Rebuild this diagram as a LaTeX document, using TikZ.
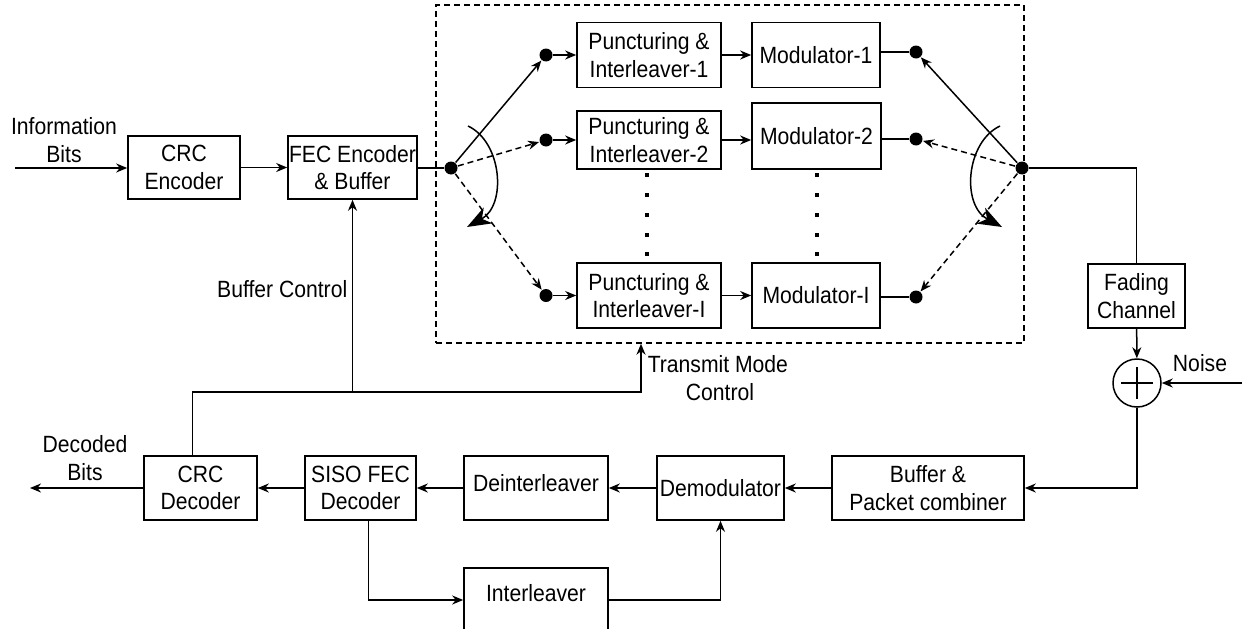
\documentclass[tikz,border=0pt]{standalone}
\usepackage{fontspec}
\setmainfont{Liberation Sans}[FakeStretch=0.9]
\usetikzlibrary{arrows.meta}
\begin{document}
\begin{tikzpicture}[x=1pt,y=-1pt,
  font=\fontsize{23.5}{27.5}\selectfont,
  line width=1.5pt,
  box/.style={draw, line width=1.6pt, inner sep=0pt, align=center},
  arr/.style={-{Stealth[length=11pt,width=9pt,inset=3.5pt]}},
  bigarr/.style={-{Stealth[length=24pt,width=18pt,inset=7pt]}},
  dotn/.style={circle, fill, inner sep=0pt, minimum size=13pt},
  dsh/.style={dash pattern=on 6pt off 4pt},
  vdot/.style={fill, inner sep=0pt, minimum size=4pt},
  lbl/.style={inner sep=0pt, align=center}]
\clip (0,0) rectangle (1242,629);
% transmitter dashed box
\node[draw, dsh, line width=1.4pt, minimum width=588pt, minimum height=338pt, inner sep=0pt] (tx) at (730,174) {};
% encoder chain
\node[box, minimum width=112pt, minimum height=63pt] (crcenc) at (184,167.5) {CRC\\Encoder};
\node[box, minimum width=129pt, minimum height=63pt] (fec) at (352.5,167.5) {FEC Encoder\\\& Buffer};
\node[lbl] (info) at (64,140) {Information\\Bits};
\coordinate (in) at (15,168);
% branches
\node[box, minimum width=144pt, minimum height=65pt] (p1) at (649,55) {Puncturing \&\\Interleaver-1};
\node[box, minimum width=128pt, minimum height=65pt] (m1) at (816,55) {Modulator-1};
\node[box, minimum width=144pt, minimum height=58pt] (p2) at (649,140) {Puncturing \&\\Interleaver-2};
\node[box, minimum width=129pt, minimum height=66pt] (m2) at (816.5,136) {Modulator-2};
\node[box, minimum width=144pt, minimum height=65pt] (p3) at (649,295.5) {Puncturing \&\\Interleaver-I};
\node[box, minimum width=128pt, minimum height=65pt] (m3) at (816,295.5) {Modulator-I};
% switch dots
\node[dotn] (lp) at (451,168) {};
\node[dotn] (d1) at (546,55) {};
\node[dotn] (d2) at (546,140) {};
\node[dotn] (d3) at (546,295.5) {};
\node[dotn] (rp) at (1022,168) {};
\node[dotn] (e1) at (916,52) {};
\node[dotn] (e2) at (916,139) {};
\node[dotn] (e3) at (916,297) {};
% vertical ellipsis
\foreach \yy in {175,195,215,235,254} {
  \node[vdot] at (647,\yy) {};
  \node[vdot] at (817,\yy) {};
}
% channel
\node[box, minimum width=97pt, minimum height=64pt] (fading) at (1136.5,296) {Fading\\Channel};
\node[circle, draw, line width=1.5pt, minimum size=48pt, inner sep=0pt] (adder) at (1137,383) {};
\draw ([yshift=16pt]adder.center) -- ([yshift=-16pt]adder.center);
\draw ([xshift=-16pt]adder.center) -- ([xshift=16pt]adder.center);
\node[lbl] (noise) at (1200,363) {Noise};
\coordinate (nz) at (1242,383);
% receiver
\node[box, minimum width=192pt, minimum height=64pt] (bufpc) at (928,488) {Buffer \&\\Packet combiner};
\node[box, minimum width=127pt, minimum height=64pt] (demod) at (720.5,488) {Demodulator};
\node[box, minimum width=144pt, minimum height=64pt] (deint) at (536,488) {};
\node[lbl] (deinttxt) at (536,483) {Deinterleaver};
\node[box, minimum width=111pt, minimum height=64pt] (siso) at (360.5,488) {SISO FEC\\Decoder};
\node[box, minimum width=113pt, minimum height=64pt] (crcdec) at (200.5,488) {CRC\\Decoder};
\node[box, minimum width=144pt, minimum height=64pt] (intl) at (536,600) {};
\node[lbl] (intltxt) at (536,593) {Interleaver};
\node[lbl] (dec) at (85,458) {Decoded\\Bits};
\coordinate (out) at (30,488);
\coordinate (tmc) at (641,392);
% labels
\node[lbl, anchor=east] (bc) at (348,289) {Buffer Control};
\node[lbl, anchor=west] (tm1) at (647,364) {Transmit Mode};
\node[lbl] (tm2) at (720,392) {Control};
% connectors: transmitter
\draw[arr] (in) -- (crcenc.west |- in);
\draw[arr] (crcenc) -- (fec);
\draw (fec.east |- lp) -- (lp);
\draw[arr] (lp) -- (d1);
\draw[arr, dsh] (lp) -- (d2);
\draw[arr, dsh] (lp) -- (d3);
\draw[arr] (d1) -- (p1.west |- d1);
\draw[arr] (d2) -- (p2.west |- d2);
\draw[arr] (d3) -- (p3.west |- d3);
\draw[arr] (p1) -- (m1);
\draw[arr] (p2.east) -- (p2.east -| m2.west);
\draw[arr] (p3) -- (m3);
\draw (m1.east |- e1) -- (e1);
\draw (m2.east |- e2) -- (e2);
\draw (m3.east |- e3) -- (e3);
\draw[arr] (rp) -- (e1);
\draw[arr, dsh] (rp) -- (e2);
\draw[arr, dsh] (rp) -- (e3);
% switch arcs
\draw[bigarr] (468,126) .. controls (502,142) and (507,205) .. (467,227);
\draw[bigarr] (1000,126) .. controls (966,142) and (961,205) .. (1002,227);
% channel
\draw (rp) -| (fading.north);
\draw[arr] (fading) -- (adder);
\draw[arr] (nz) -- (adder);
\draw[arr] (adder.south) |- (bufpc.east);
% receiver
\draw[arr] (bufpc) -- (demod);
\draw[arr] (demod) -- (deint);
\draw[arr] (deint) -- (siso);
\draw[arr] (siso) -- (crcdec);
\draw[arr] (crcdec) -- (out);
\draw[arr] ([xshift=8pt]siso.south) |- (intl.west);
\draw[arr] (intl.east) -| (demod.south);
% feedback
\draw[arr] ([xshift=-8pt]crcdec.north) |- (tmc) -- (tmc |- tx.south);
\draw[arr] (fec.south |- tmc) -- (fec.south);
\end{tikzpicture}
\end{document}
